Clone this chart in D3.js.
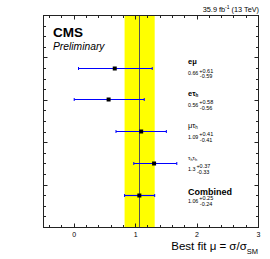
<!DOCTYPE html>
<html><head><meta charset="utf-8">
<script src="https://cdn.jsdelivr.net/npm/d3@7"></script>
<style>body{margin:0;background:#fff}text{font-family:"Liberation Sans",Arial,sans-serif}</style>
</head><body>
<svg id="c" width="270" height="259"></svg>
<script>
const channels = ["eμ","eτh","μτh","τhτh","Combined"];
const muValues = [0.66, 0.56, 1.09, 1.3, 1.06];
const errUp = [0.61, 0.58, 0.41, 0.37, 0.25];
const errDown = [0.59, 0.56, 0.41, 0.33, 0.24];
const valueLabels = ["0.66","0.56","1.09","1.3","1.06"];
const upLabels = ["+0.61","+0.58","+0.41","+0.37","+0.25"];
const downLabels = ["-0.59","-0.56","-0.41","-0.33","-0.24"];
const xTicks = [0,1,2,3];
const combinedIdx = 4;

const svg = d3.select("#c");
const L=43.5,R=258.5,T=15.5,B=227.5;
const x = d3.scaleLinear().domain([-0.5,3]).range([L,R]);
const y = d3.scaleLinear().domain([0,6.65]).range([B,T]);
const rowOf = i => 5 - i;
const yt = d3.scaleLinear().domain([0,20]).range([B,T]);
const snap = v => Math.round(v-0.5)+0.5;

// band
const c = muValues[combinedIdx];
svg.append("rect").attr("x",x(c-errDown[combinedIdx])).attr("y",T)
  .attr("width",x(c+errUp[combinedIdx])-x(c-errDown[combinedIdx])).attr("height",B-T).attr("fill","#ffff00");
svg.append("line").attr("x1",snap(x(c))).attr("x2",snap(x(c))).attr("y1",T).attr("y2",B).attr("stroke","#555").attr("stroke-width",1);

// frame
svg.append("rect").attr("x",L).attr("y",T).attr("width",R-L).attr("height",B-T).attr("fill","none").attr("stroke","#222").attr("stroke-width",1);

// x ticks
const minorX = d3.range(-0.4,3.0001,0.2);
minorX.forEach(v=>{
  const major = Math.abs(v-Math.round(v))<1e-6;
  const len = major?4:2.5;
  const xx = snap(x(v));
  svg.append("line").attr("x1",xx).attr("x2",xx).attr("y1",B).attr("y2",B-len).attr("stroke","#222");
  svg.append("line").attr("x1",xx).attr("x2",xx).attr("y1",T).attr("y2",T+len).attr("stroke","#222");
});
svg.append("g").selectAll("text").data(xTicks).join("text")
  .attr("x",d=>x(d)).attr("y",237).attr("text-anchor","middle").attr("font-size",7).text(d=>d);

// y ticks
d3.range(1,20).forEach(v=>{
  const len = v%4===0?4:2.5;
  const yy = snap(yt(v));
  svg.append("line").attr("x1",L).attr("x2",L+len).attr("y1",yy).attr("y2",yy).attr("stroke","#222");
  svg.append("line").attr("x1",R).attr("x2",R-len).attr("y1",yy).attr("y2",yy).attr("stroke","#222");
});

// error bars
const g = svg.append("g");
muValues.forEach((m,i)=>{
  const yy = snap(y(rowOf(i)));
  const x0 = x(m-errDown[i]), x1 = x(m+errUp[i]);
  g.append("line").attr("x1",x0).attr("x2",x1).attr("y1",yy).attr("y2",yy).attr("stroke","#0000ff").attr("stroke-width",1.2);
  [x0,x1].forEach(xx=>g.append("line").attr("x1",xx).attr("x2",xx).attr("y1",yy-1.5).attr("y2",yy+1.5).attr("stroke","#0000ff"));
  g.append("rect").attr("x",x(m)-2).attr("y",yy-2).attr("width",4).attr("height",4).attr("fill","#000");
});

// labels
const lx = 188;
muValues.forEach((m,i)=>{
  const yy = y(rowOf(i));
  const isComb = i===combinedIdx;
  const t = svg.append("text").attr("x",lx).attr("y",isComb?yy-1:yy-4)
    .attr("font-size",isComb?9:7.5).attr("font-weight",(i<2||isComb)?"bold":"normal");
  const name = channels[i];
  if(name==="eτh"){ t.append("tspan").text("eτ"); t.append("tspan").attr("font-size",4.5).attr("dy",1.5).text("h"); }
  else if(name==="μτh"){ t.append("tspan").text("μτ"); t.append("tspan").attr("font-size",4.5).attr("dy",1.5).text("h"); }
  else if(name==="τhτh"){ t.attr("font-size",6); t.append("tspan").text("τ"); t.append("tspan").attr("font-size",4).attr("dy",1.5).text("h");
    t.append("tspan").attr("dy",-1.5).text("τ"); t.append("tspan").attr("font-size",4).attr("dy",1.5).text("h"); }
  else t.text(name);
  const v = svg.append("text").attr("x",lx).attr("y",yy+7).attr("font-size",5.3).text(valueLabels[i]);
  const w = v.node().getComputedTextLength();
  svg.append("text").attr("x",lx+w+1).attr("y",yy+4.5).attr("font-size",5.5).text(upLabels[i]);
  svg.append("text").attr("x",lx+w+1.5).attr("y",yy+10.2).attr("font-size",5.5).text(downLabels[i]);
});

// CMS text
svg.append("text").attr("x",53).attr("y",36.5).attr("font-size",13.5).attr("font-weight","bold").text("CMS");
svg.append("text").attr("x",53).attr("y",49.5).attr("font-size",10.3).attr("font-style","italic").text("Preliminary");

// lumi
const lt = svg.append("text").attr("x",259).attr("y",12).attr("text-anchor","end").attr("font-size",7.3);
lt.append("tspan").text("35.9 fb");
lt.append("tspan").attr("font-size",5).attr("dy",-3).text("-1");
lt.append("tspan").attr("dy",3).text(" (13 TeV)");

// axis title
const at = svg.append("text").attr("x",258).attr("y",250).attr("text-anchor","end").attr("font-size",11.5);
at.append("tspan").text("Best fit μ = σ/σ");
at.append("tspan").attr("font-size",7.5).attr("dy",3.5).text("SM");
</script>
</body></html>
